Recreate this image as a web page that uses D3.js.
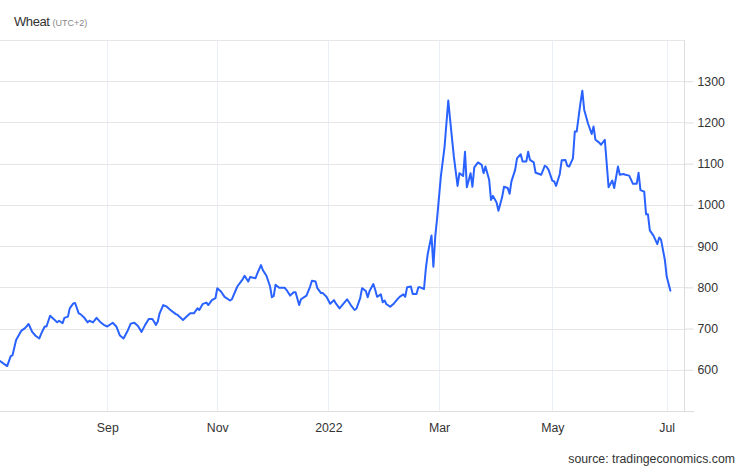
<!DOCTYPE html>
<html>
<head>
<meta charset="utf-8">
<script src="https://cdn.jsdelivr.net/npm/d3@7/dist/d3.min.js"></script>
<style>
  html, body { margin: 0; padding: 0; background: #fff; }
  svg { display: block; font-family: "Liberation Sans", Arial, sans-serif; }
</style>
</head>
<body>
<svg id="chart" width="746" height="468"></svg>
<script>
// ---- data ----
const dates = [
  "2021-07-03","2021-07-07","2021-07-09","2021-07-10","2021-07-12","2021-07-15","2021-07-17","2021-07-19","2021-07-21","2021-07-23",
  "2021-07-25","2021-07-26","2021-07-28","2021-07-29","2021-07-31","2021-08-02","2021-08-04","2021-08-05","2021-08-07","2021-08-08",
  "2021-08-10","2021-08-11","2021-08-13","2021-08-14","2021-08-16","2021-08-17","2021-08-19","2021-08-21","2021-08-22","2021-08-24",
  "2021-08-26","2021-08-28","2021-08-30","2021-09-01",
  "2021-09-02","2021-09-04","2021-09-06","2021-09-08","2021-09-10","2021-09-12","2021-09-14","2021-09-16","2021-09-18","2021-09-20",
  "2021-09-22","2021-09-24","2021-09-26","2021-09-28","2021-09-29","2021-09-30","2021-10-02","2021-10-04","2021-10-06","2021-10-09",
  "2021-10-10","2021-10-13","2021-10-15","2021-10-17","2021-10-19","2021-10-21","2021-10-22","2021-10-24","2021-10-26","2021-10-27",
  "2021-10-29","2021-10-31",
  "2021-11-01","2021-11-03","2021-11-05","2021-11-08","2021-11-09","2021-11-12","2021-11-14","2021-11-15","2021-11-16","2021-11-18",
  "2021-11-19","2021-11-22","2021-11-23","2021-11-25","2021-11-26","2021-11-28","2021-11-30","2021-12-01","2021-12-02","2021-12-03",
  "2021-12-05","2021-12-08","2021-12-09","2021-12-11","2021-12-13","2021-12-14","2021-12-16","2021-12-17","2021-12-20","2021-12-22",
  "2021-12-23","2021-12-25","2021-12-26","2021-12-28","2021-12-29","2021-12-31",
  "2022-01-02","2022-01-04","2022-01-05","2022-01-07","2022-01-09","2022-01-11","2022-01-13","2022-01-15","2022-01-16","2022-01-18",
  "2022-01-19","2022-01-21","2022-01-22","2022-01-23","2022-01-25","2022-01-26","2022-01-27","2022-01-29","2022-01-30","2022-01-31",
  "2022-02-01","2022-02-03","2022-02-05","2022-02-07","2022-02-08","2022-02-10","2022-02-11","2022-02-12","2022-02-14","2022-02-15",
  "2022-02-17","2022-02-18","2022-02-19","2022-02-21","2022-02-22","2022-02-23","2022-02-25","2022-02-26","2022-02-27","2022-02-28",
  "2022-03-02","2022-03-04","2022-03-05","2022-03-06","2022-03-07","2022-03-09","2022-03-11","2022-03-12","2022-03-14","2022-03-15",
  "2022-03-16","2022-03-18","2022-03-19","2022-03-20","2022-03-22","2022-03-24","2022-03-25","2022-03-26","2022-03-28","2022-03-29",
  "2022-03-30","2022-04-01","2022-04-02","2022-04-04","2022-04-05","2022-04-07","2022-04-08","2022-04-09","2022-04-11","2022-04-12",
  "2022-04-14","2022-04-15","2022-04-17","2022-04-18","2022-04-19","2022-04-21","2022-04-22","2022-04-24","2022-04-25","2022-04-27",
  "2022-04-28","2022-04-29","2022-05-01",
  "2022-05-02","2022-05-03","2022-05-05","2022-05-06","2022-05-08","2022-05-09","2022-05-10","2022-05-12","2022-05-13","2022-05-14",
  "2022-05-16","2022-05-17","2022-05-18","2022-05-20","2022-05-22","2022-05-23","2022-05-24","2022-05-26","2022-05-27","2022-05-29",
  "2022-05-30","2022-05-31","2022-06-02","2022-06-03","2022-06-05","2022-06-06","2022-06-08","2022-06-09","2022-06-11","2022-06-13",
  "2022-06-15","2022-06-16","2022-06-17","2022-06-19","2022-06-20","2022-06-21","2022-06-22","2022-06-24","2022-06-26","2022-06-27",
  "2022-06-28","2022-06-30","2022-07-01","2022-07-03"
];
const prices = [
  621,609,633,635,672,695,701,711,692,682,
  676,687,705,705,731,723,715,719,713,726,
  729,749,761,762,737,735,727,715,719,715,
  726,716,709,705,
  708,714,705,683,676,692,712,714,706,692,
  709,723,723,709,717,737,757,753,745,735,
  733,721,729,737,737,749,745,760,763,757,
  769,774,
  798,790,777,768,771,802,814,820,828,814,
  825,822,834,854,842,828,802,776,779,806,
  799,799,794,780,788,788,757,771,780,802,
  816,814,798,786,786,777,
  760,769,761,749,760,771,757,745,748,774,
  798,791,776,791,808,794,777,783,764,768,
  759,753,761,772,777,783,777,800,802,784,
  784,800,800,796,846,881,926,850,923,968,
  1069,1141,1198,1253,1206,1117,1046,1077,1070,1129,
  1043,1077,1044,1091,1103,1097,1077,1093,1061,1012,
  1022,1006,986,1019,1044,1041,1027,1057,1085,1113,
  1123,1105,1105,1129,1109,1103,1078,1075,1073,1095,
  1092,1085,1059,
  1057,1046,1075,1108,1109,1095,1093,1113,1178,1178,
  1247,1277,1231,1198,1172,1190,1158,1151,1146,1158,
  1101,1043,1059,1041,1093,1073,1075,1073,1071,1051,
  1051,1078,1036,1032,977,977,938,925,905,921,
  915,867,826,792
];
const xTickDates  = ["2021-09-01","2021-11-01","2022-01-01","2022-03-01","2022-05-01","2022-07-01"];
const xTickLabels = ["Sep","Nov","2022","Mar","May","Jul"];
const yTicks = [600,700,800,900,1000,1100,1200,1300];
const yGrid  = [600,700,800,900,1000,1100,1200,1300,1400];

// ---- layout ----
const parse = d3.timeParse("%Y-%m-%d");
const data = dates.map((d, i) => ({ date: parse(d), value: prices[i] }));
const plotLeft = 0, plotRight = 684, plotTop = 40, plotBottom = 411;

const svg = d3.select("#chart");

// piecewise time scale (axis is not perfectly linear in time in the reference)
const x = d3.scaleTime()
  .domain([parse("2021-07-03"), ...xTickDates.map(parse), parse("2022-07-03")])
  .range([0, 107.3, 217.3, 328.3, 439, 552.3, 666.7, 670.4]);

const y = d3.scaleLinear().domain([500, 1400]).range([plotBottom, plotTop]);

// vertical gridlines
svg.append("g").selectAll("line").data(xTickDates.map(parse)).join("line")
  .attr("x1", d => Math.round(x(d)) + 0.5).attr("x2", d => Math.round(x(d)) + 0.5)
  .attr("y1", plotTop).attr("y2", plotBottom)
  .attr("stroke", "#eaeff6").attr("stroke-width", 1);

// horizontal gridlines
svg.append("g").selectAll("line").data(yGrid).join("line")
  .attr("x1", plotLeft).attr("x2", plotRight)
  .attr("y1", d => Math.round(y(d)) + 0.5).attr("y2", d => Math.round(y(d)) + 0.5)
  .attr("stroke", "#e6e6e6").attr("stroke-width", 1);

// right axis
const yAxis = d3.axisRight(y).tickValues(yTicks).tickSize(9).tickPadding(4).tickFormat(d3.format("d"));
const gy = svg.append("g").attr("transform", `translate(${plotRight + 0.5},0)`).call(yAxis);
gy.select(".domain").attr("stroke", "#dddddd").attr("d", `M0,${plotTop}V${plotBottom}`);
gy.selectAll(".tick line").attr("stroke", "#dddddd");
gy.selectAll(".tick text").attr("fill", "#333").style("font-size", "12.3px")
  .style("font-family", "'Liberation Sans', Arial, sans-serif");

// bottom axis
const xAxis = d3.axisBottom(x).tickValues(xTickDates.map(parse)).tickSize(0).tickPadding(12)
  .tickFormat((d, i) => xTickLabels[i]);
const gx = svg.append("g").attr("transform", `translate(0,${plotBottom + 0.5})`).call(xAxis);
gx.select(".domain").attr("stroke", "#dddddd").attr("d", `M0,0H${plotRight + 10}`);
gx.selectAll(".tick text").attr("fill", "#333").style("font-size", "12.3px")
  .style("font-family", "'Liberation Sans', Arial, sans-serif");

// line
const line = d3.line().x(d => x(d.date)).y(d => y(d.value)).curve(d3.curveLinear);
svg.append("path").datum(data)
  .attr("fill", "none").attr("stroke", "#2962ff").attr("stroke-width", 2)
  .attr("stroke-linejoin", "round").attr("stroke-linecap", "round")
  .attr("d", line);

// title
const title = svg.append("text").attr("x", 14).attr("y", 26)
  .attr("fill", "#333").style("font-size", "13px").style("letter-spacing", "-0.4px");
title.append("tspan").text("Wheat");
title.append("tspan").attr("dx", 3).attr("fill", "#888").style("font-size", "9px").style("letter-spacing", "0px").text("(UTC+2)");

// source
svg.append("text").attr("x", 735).attr("y", 463).attr("text-anchor", "end")
  .attr("fill", "#333").style("font-size", "12.3px").text("source: tradingeconomics.com");
</script>
</body>
</html>
